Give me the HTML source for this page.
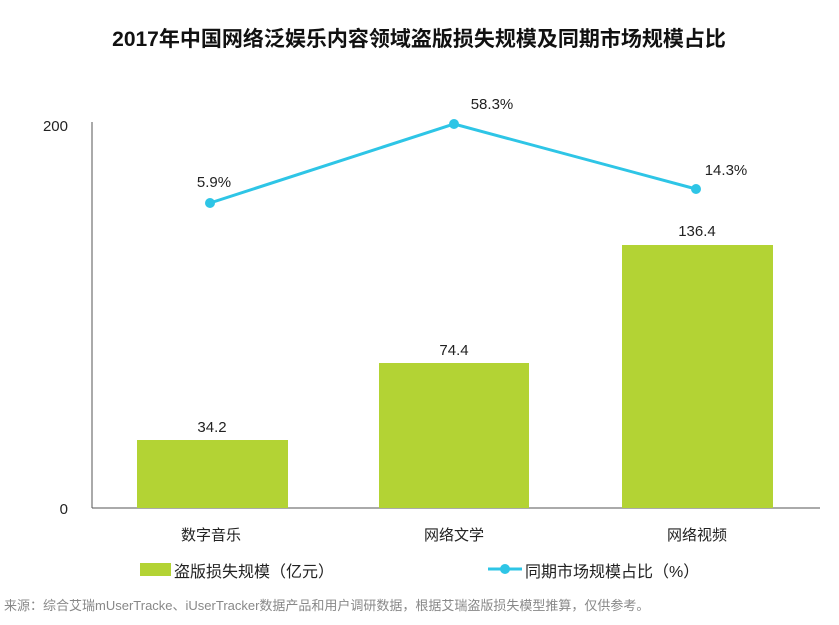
<!DOCTYPE html>
<html><head><meta charset="utf-8"><style>
html,body{margin:0;padding:0;background:#fff;}
body{width:839px;height:620px;overflow:hidden;font-family:"Liberation Sans","Noto Sans CJK SC",sans-serif;}
</style></head><body>
<svg width="839" height="620" xmlns="http://www.w3.org/2000/svg" font-family="Liberation Sans, Noto Sans CJK SC, sans-serif">
<text x="419" y="46" text-anchor="middle" font-size="21" font-weight="bold" fill="#111">2017年中国网络泛娱乐内容领域盗版损失规模及同期市场规模占比</text>
<line x1="92" y1="122" x2="92" y2="508" stroke="#555" stroke-width="1"/>
<line x1="92" y1="508" x2="820" y2="508" stroke="#555" stroke-width="1"/>
<text x="68" y="131" text-anchor="end" font-size="15" fill="#222">200</text>
<text x="68" y="514" text-anchor="end" font-size="15" fill="#222">0</text>
<rect x="137" y="440" width="151" height="68" fill="#b3d334"/>
<rect x="379" y="363" width="150" height="145" fill="#b3d334"/>
<rect x="622" y="245" width="151" height="263" fill="#b3d334"/>
<text x="212" y="432" text-anchor="middle" font-size="15" fill="#222">34.2</text>
<text x="454" y="355" text-anchor="middle" font-size="15" fill="#222">74.4</text>
<text x="697" y="236" text-anchor="middle" font-size="15" fill="#222">136.4</text>
<polyline points="210,203 454,124 696,189" fill="none" stroke="#2ec5e6" stroke-width="3"/>
<circle cx="210" cy="203" r="5" fill="#2ec5e6"/>
<circle cx="454" cy="124" r="5" fill="#2ec5e6"/>
<circle cx="696" cy="189" r="5" fill="#2ec5e6"/>
<text x="214" y="187" text-anchor="middle" font-size="15" fill="#222">5.9%</text>
<text x="492" y="109" text-anchor="middle" font-size="15" fill="#222">58.3%</text>
<text x="726" y="175" text-anchor="middle" font-size="15" fill="#222">14.3%</text>
<text x="211" y="540" text-anchor="middle" font-size="15" fill="#222">数字音乐</text>
<text x="454" y="540" text-anchor="middle" font-size="15" fill="#222">网络文学</text>
<text x="697" y="540" text-anchor="middle" font-size="15" fill="#222">网络视频</text>
<rect x="140" y="563" width="31" height="13" fill="#b3d334"/>
<text x="174" y="577" font-size="16" fill="#222">盗版损失规模（亿元）</text>
<line x1="488" y1="569" x2="522" y2="569" stroke="#2ec5e6" stroke-width="3"/>
<circle cx="505" cy="569" r="5" fill="#2ec5e6"/>
<text x="525" y="577" font-size="16" fill="#222">同期市场规模占比（%）</text>
<text x="4" y="610" font-size="13" fill="#888">来源：综合艾瑞mUserTracke、iUserTracker数据产品和用户调研数据，根据艾瑞盗版损失模型推算，仅供参考。</text>
</svg>
</body></html>
